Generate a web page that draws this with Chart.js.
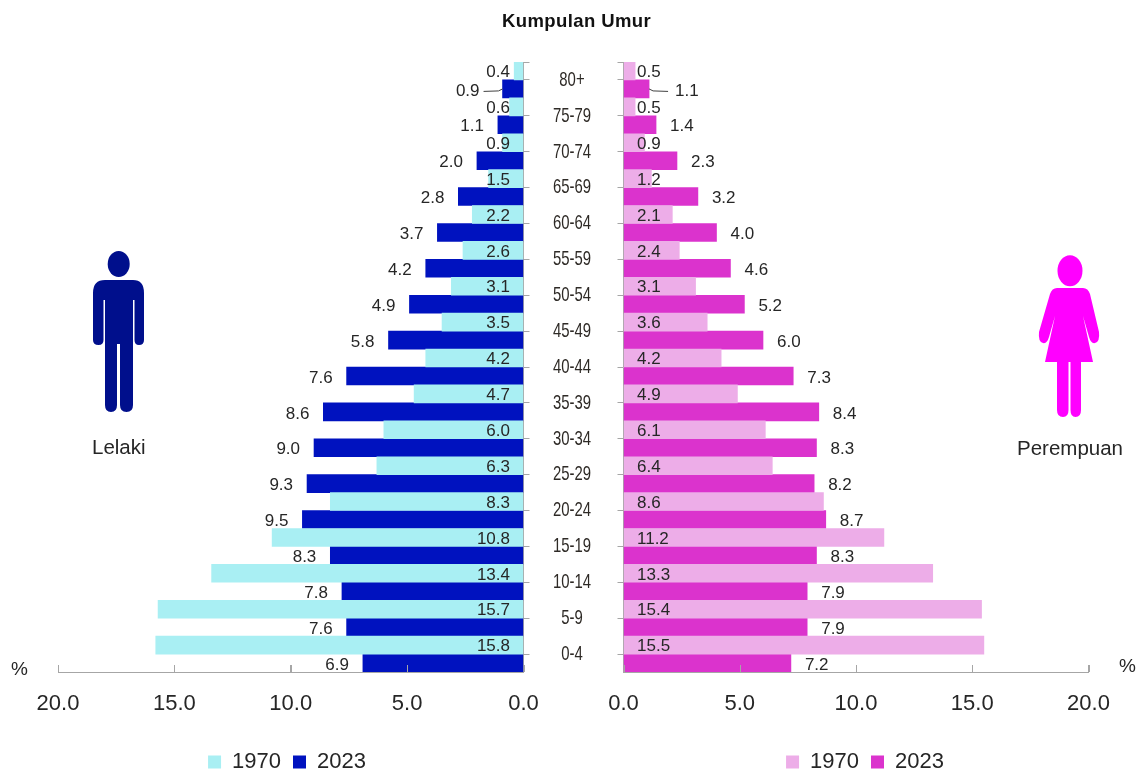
<!DOCTYPE html>
<html>
<head>
<meta charset="utf-8">
<title>Kumpulan Umur</title>
<script src="https://cdn.jsdelivr.net/npm/chart.js@4/dist/chart.umd.min.js"></script>
<style>
    html, body { margin: 0; padding: 0; background: #fff; }
    body { position: relative; width: 1140px; height: 776px; overflow: hidden; font-family: "Liberation Sans", Arial, sans-serif; color: #262626; }
    canvas { position: absolute; top: 0; }
    #chartLelaki { left: 0; }
    #chartPerempuan { left: 533px; }
    .teks { position: absolute; white-space: nowrap; }
    svg { position: absolute; }
</style>
</head>
<body>
<canvas id="chartLelaki" width="574" height="783"></canvas>
<canvas id="chartPerempuan" width="607" height="783"></canvas>

<div class="teks" style="left:502px; top:10px; font-size:18.500px; font-weight:bold; letter-spacing:0.4px; color:#111;">Kumpulan Umur</div>
<div class="teks" style="left:92px; top:435px; font-size:20.500px;">Lelaki</div>
<div class="teks" style="left:1017px; top:436px; font-size:20.500px;">Perempuan</div>
<div class="teks" style="left:11px; top:658px; font-size:19px;">%</div>
<div class="teks" style="left:1119px; top:655px; font-size:19px;">%</div>

<!-- ikon lelaki -->
<svg style="left:90px; top:248px;" width="58" height="168" viewBox="0 0 58 168">
    <ellipse cx="28.700" cy="16" rx="11" ry="13" fill="#000F8C"/>
    <path fill="#000F8C" d="M15 32 H43 Q54 32 54 45 V92 Q54 97 49 97 Q44.500 97 44.500 92 V52 H43 V157 Q43 164 36.500 164 Q30 164 30 157 V96 H27 V157 Q27 164 21 164 Q15 164 15 157 V52 H13.500 V92 Q13.500 97 8.500 97 Q3 97 3 92 V45 Q3 32 15 32 Z"/>
</svg>
<!-- ikon perempuan -->
<svg style="left:1036px; top:252px;" width="68" height="168" viewBox="0 0 68 168">
    <ellipse cx="34" cy="18.700" rx="12.500" ry="15.500" fill="#FF00FF"/>
    <path fill="#FF00FF" d="M21 36 H47 Q52 36 54 42 L63 80 Q64 90 59 91 Q55 92 53 85 L47 64 L57 110 H45 V158 Q45 165 39.500 165 Q34.500 165 34.500 158 V110 H32.500 V158 Q32.500 165 27 165 Q21 165 21 158 V110 H9 L19 64 L13 85 Q11 92 7 91 Q2 90 3 80 L14 42 Q16 36 21 36 Z"/>
</svg>

<script>
// Data
const kumpulanUmur = ['80+', '75-79', '70-74', '65-69', '60-64', '55-59', '50-54', '45-49', '40-44', '35-39', '30-34', '25-29', '20-24', '15-19', '10-14', '5-9', '0-4'];
const lelaki1970 = [0.4, 0.6, 0.9, 1.5, 2.2, 2.6, 3.1, 3.5, 4.2, 4.7, 6.0, 6.3, 8.3, 10.8, 13.4, 15.7, 15.8];
const lelaki2023 = [0.9, 1.1, 2.0, 2.8, 3.7, 4.2, 4.9, 5.8, 7.6, 8.6, 9.0, 9.3, 9.5, 8.3, 7.8, 7.6, 6.9];
const perempuan1970 = [0.5, 0.5, 0.9, 1.2, 2.1, 2.4, 3.1, 3.6, 4.2, 4.9, 6.1, 6.4, 8.6, 11.2, 13.3, 15.4, 15.5];
const perempuan2023 = [1.1, 1.4, 2.3, 3.2, 4.0, 4.6, 5.2, 6.0, 7.3, 8.4, 8.3, 8.2, 8.7, 8.3, 7.9, 7.9, 7.2];

const warnaGaris = '#a6a6a6';
const warnaTeks = '#262626';
const fontUtama = '"Liberation Sans", Arial, sans-serif';

// Label nilai pada setiap bar (tiada plugin datalabels di sini)
const labelNilai = {
    id: 'labelNilai',
    afterLayout(chart, args, opts) {
        // legend tidak berpusat pada kawasan plot, jadi alihkan kotaknya
        const legend = chart.legend;
        const beza = opts.pusatLegend - (legend.left + legend.right) / 2;
        legend.left += beza;
        legend.right += beza;
    },
    afterDatasetsDraw(chart, args, opts) {
        const { ctx, chartArea, scales: { x, y } } = chart;
        const arah = x.options.reverse ? -1 : 1;
        const paksi = x.getPixelForValue(0);
        ctx.save();
        ctx.font = '17px ' + fontUtama;
        ctx.fillStyle = warnaTeks;
        ctx.textBaseline = 'middle';
        ctx.textAlign = arah < 0 ? 'right' : 'left';

        chart.getDatasetMeta(0).data.forEach((bar, i) => {
            ctx.fillText(chart.data.datasets[0].data[i].toFixed(1), paksi + arah * 13.5, bar.y + 1.5);
        });
        chart.getDatasetMeta(1).data.forEach((bar, i) => {
            const jarak = i === 0 ? (arah < 0 ? 23 : 26) : 14;
            ctx.fillText(chart.data.datasets[1].data[i].toFixed(1), bar.x + arah * jarak, bar.y + 2);
        });

        // garis penunjuk untuk bar 80+ 2023
        const barAtas = chart.getDatasetMeta(1).data[0];
        ctx.strokeStyle = '#404040';
        ctx.lineWidth = 1;
        ctx.beginPath();
        ctx.moveTo(barAtas.x, barAtas.y);
        ctx.lineTo(barAtas.x + arah * 4, barAtas.y + 2);
        ctx.lineTo(barAtas.x + arah * 19, barAtas.y + 2.5);
        ctx.stroke();

        // tanda hujung atas paksi umur, dan tanda paksi x yang kena tutup dengan bar
        ctx.strokeStyle = warnaGaris;
        ctx.beginPath();
        ctx.moveTo(paksi, chartArea.top + 0.5);
        ctx.lineTo(paksi - arah * 6, chartArea.top + 0.5);
        x.ticks.forEach(t => {
            const px = Math.round(x.getPixelForValue(t.value)) + 0.5;
            ctx.moveTo(px, chartArea.bottom);
            ctx.lineTo(px, chartArea.bottom - 7);
        });
        ctx.stroke();
        ctx.restore();

        // label umur sempit dalam rujukan: picit mendatar sebelum lapisan ticks z:1 dilukis
        if (opts.tengahUmur) {
            ctx.save();
            ctx.translate(opts.tengahUmur, 0);
            ctx.scale(0.71, 1);
            ctx.translate(-opts.tengahUmur, 0);
        }
    },
    afterDraw(chart, args, opts) {
        if (opts.tengahUmur) chart.ctx.restore();
    }
};

function buatPiramid(canvasId, data1970, data2023, warna1970, warna2023, kiri, pusatLegend) {
    const ctx = document.getElementById(canvasId).getContext('2d');
    return new Chart(ctx, {
        type: 'bar',
        data: {
            labels: kumpulanUmur,
            datasets: [
                { label: '1970', data: data1970, backgroundColor: warna1970 },
                { label: '2023', data: data2023, backgroundColor: warna2023 }
            ]
        },
        plugins: [labelNilai],
        options: {
            indexAxis: 'y',
            responsive: false,
            animation: false,
            events: [],
            datasets: { bar: { categoryPercentage: 1, barPercentage: 1 } },
            layout: { padding: { top: 62, left: kiri ? 58 : 0, right: kiri ? 0 : 1140 - 1088.5 } },
            scales: {
                x: {
                    reverse: kiri,
                    min: 0,
                    max: 20,
                    afterFit(axis) { axis.height = axis.chart.height - axis.chart.legend.height - 672; },
                    border: { color: warnaGaris, width: 1 },
                    grid: { drawOnChartArea: false, tickLength: -7, tickColor: warnaGaris },
                    ticks: {
                        stepSize: 5,
                        padding: 26,
                        maxRotation: 0,
                        color: warnaTeks,
                        font: { family: fontUtama, size: 22 },
                        callback: value => value.toFixed(1)
                    }
                },
                y: {
                    position: kiri ? 'right' : 'left',
                    afterFit(axis) { axis.width = kiri ? 574 - 523.5 : 623.5 - 533; },
                    border: { color: warnaGaris, width: 1 },
                    grid: { offset: false, drawOnChartArea: false, tickLength: 6, tickColor: warnaGaris },
                    ticks: kiri ? { display: false } : {
                        autoSkip: false,
                        crossAlign: 'center',
                        padding: 18.7,
                        z: 1,
                        color: '#2e2a26',
                        font: { family: fontUtama, size: 21 }
                    }
                }
            },
            plugins: {
                title: { display: false },
                tooltip: { enabled: false },
                labelNilai: { pusatLegend: pusatLegend, tengahUmur: kiri ? 0 : 572 - 533 },
                legend: {
                    position: 'bottom',
                    labels: {
                        boxWidth: 13,
                        boxHeight: 13,
                        padding: 12,
                        color: warnaTeks,
                        font: { family: fontUtama, size: 22 }
                    }
                }
            }
        }
    });
}

buatPiramid('chartLelaki', lelaki1970, lelaki2023, '#A9EFF3', '#0012BF', true, 287);
buatPiramid('chartPerempuan', perempuan1970, perempuan2023, '#EDADE8', '#DB33CD', false, 865 - 533);
</script>
</body>
</html>
